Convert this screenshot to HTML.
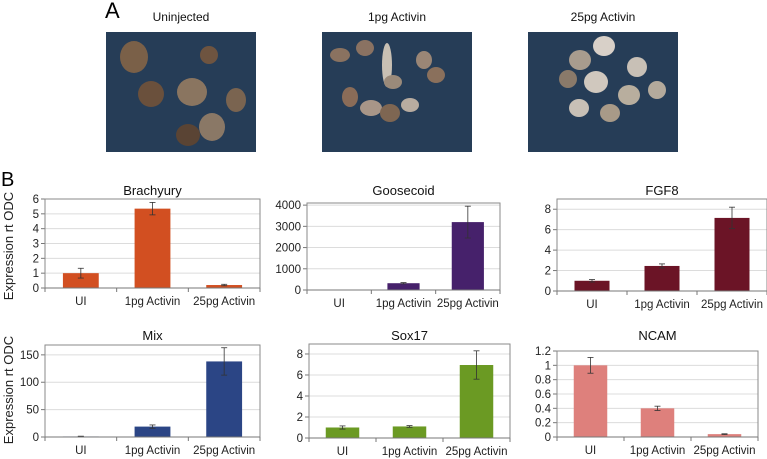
<!DOCTYPE html>
<html><head><meta charset="utf-8"><style>
html,body{margin:0;padding:0;background:#fff;}
svg{display:block;font-family:"Liberation Sans",Arial,sans-serif;}
</style></head><body>
<svg id="fig" width="767" height="459" viewBox="0 0 767 459">
  <text x="105" y="18" font-size="22" fill="#000">A</text>
  <text x="1" y="186" font-size="20" fill="#000">B</text>
  <g id="photos"></g>
  <g id="charts"></g>
  <text transform="translate(13,246) rotate(-90)" text-anchor="middle" font-size="13" fill="#222">Expression rt ODC</text>
  <text transform="translate(13,390) rotate(-90)" text-anchor="middle" font-size="13" fill="#222">Expression rt ODC</text>
</svg>
<script>
const categories = ["UI","1pg Activin","25pg Activin"];
const brachyuryValues = [1, 5.35, 0.2];
const brachyuryErrors = [0.33, 0.42, 0.05];
const brachyuryTicks = [0,1,2,3,4,5,6];
const goosecoidValues = [0, 320, 3200];
const goosecoidErrors = [0, 30, 750];
const goosecoidTicks = [0,1000,2000,3000,4000];
const fgf8Values = [1, 2.45, 7.15];
const fgf8Errors = [0.12, 0.2, 1.05];
const fgf8Ticks = [0,2,4,6,8];
const mixValues = [1, 19, 138];
const mixErrors = [0.5, 3, 25];
const mixTicks = [0,50,100,150];
const sox17Values = [1, 1.1, 6.95];
const sox17Errors = [0.15, 0.08, 1.35];
const sox17Ticks = [0,2,4,6,8];
const ncamValues = [1, 0.4, 0.04];
const ncamErrors = [0.11, 0.03, 0.005];
const ncamTicks = ["0","0.2","0.4","0.6","0.8","1","1.2"];

const NS = "http://www.w3.org/2000/svg";
function mk(tag, attrs, parent){
  const e = document.createElementNS(NS, tag);
  for (const k in attrs) e.setAttribute(k, attrs[k]);
  parent.appendChild(e);
  return e;
}

// Photos
const photos = document.getElementById('photos');
const photoDefs = [
  {x:106, title:"Uninjected", name:"uninjected", blobs:[[134,57,14,16,"#7a6048"],[209,55,9,9,"#6e5440"],[151,94,13,13,"#6a503c"],[192,92,15,14,"#8a7560"],[236,100,10,12,"#7a6450"],[212,127,13,14,"#8a7866"],[188,135,12,11,"#5a4434"]]},
  {x:322, title:"1pg Activin", name:"1pg-activin", blobs:[[340,55,10,7,"#8a7260"],[365,48,9,8,"#8a7262"],[387,65,5,22,"#c8c0b4"],[393,82,9,7,"#9a8a7a"],[424,60,8,9,"#9a8676"],[436,75,9,8,"#8a705c"],[350,97,8,10,"#8a6c58"],[371,108,11,8,"#a89688"],[390,113,10,9,"#7e6652"],[410,105,9,7,"#b8aca0"]]},
  {x:528, title:"25pg Activin", name:"25pg-activin", blobs:[[604,46,11,10,"#d8d0c8"],[580,60,11,10,"#a89c8e"],[637,67,10,10,"#c8c0b6"],[568,79,9,9,"#8a7a6a"],[596,82,12,11,"#d0c8be"],[629,95,11,10,"#b8ae9e"],[579,108,10,9,"#c8c0b6"],[610,113,10,9,"#a89a88"],[657,90,9,9,"#b4aa9c"]]}
];
photoDefs.forEach(p => {
  const g = mk('g', {}, photos);
  
  
  const t = mk('text', {x:p.x+75, y:21, 'text-anchor':'middle', 'font-size':12, fill:'#111'}, g);
  t.textContent = p.title;
  
  
  mk('rect', {x:p.x, y:32, width:150, height:120, fill:'#263d57'}, g);
  p.blobs.forEach(b => mk('ellipse', {cx:b[0], cy:b[1], rx:b[2], ry:b[3], fill:b[4]}, g));
});

// Charts
const charts = document.getElementById('charts');
function drawChart(o){
  const g = mk('g', {}, charts);
  
  
  const y = v => o.y0 - (v / o.max) * (o.y0 - o.top);
  const bw = (o.x1 - o.x0) / categories.length;
  const tt = mk('text', {x:(o.x0+o.x1)/2, y:o.titleY, 'text-anchor':'middle', 'font-size':13, fill:'#111'}, g);
  tt.textContent = o.title;
  
  
  o.ticks.forEach(t => {
    const v = parseFloat(t);
    const yy = y(v);
    if (v > 0) mk('line', {x1:o.x0, x2:o.x1, y1:yy, y2:yy, stroke:'#dcdcdc', 'stroke-width':1}, g);
    mk('line', {x1:o.x0-4, x2:o.x0, y1:yy, y2:yy, stroke:'#777'}, g);
    const lt = mk('text', {x:o.x0-6, y:yy+4, 'text-anchor':'end', 'font-size':11.5, fill:'#222'}, g);
    lt.textContent = t;
    
    
  });
  mk('rect', {x:o.x0, y:o.top, width:o.x1-o.x0, height:o.y0-o.top, fill:'none', stroke:'#8a8a8a'}, g);
  categories.forEach((c, i) => {
    const cx = o.x0 + bw*(i+0.5);
    const v = o.values[i], e = o.errors[i];
    const b = mk('rect', {x:cx-bw/4, y:y(v), width:bw/2, height:o.y0-y(v), fill:o.color}, g);
    
    
    if (e > 0) {
      mk('line', {x1:cx, x2:cx, y1:y(v+e), y2:y(Math.max(0,v-e)), stroke:'#333', 'stroke-width':0.8}, g);
      mk('line', {x1:cx-3, x2:cx+3, y1:y(v+e), y2:y(v+e), stroke:'#333', 'stroke-width':0.8}, g);
      mk('line', {x1:cx-3, x2:cx+3, y1:y(Math.max(0,v-e)), y2:y(Math.max(0,v-e)), stroke:'#333', 'stroke-width':0.8}, g);
    }
    const xl = mk('text', {x:cx, y:o.y0+17, 'text-anchor':'middle', 'font-size':11.5, fill:'#222'}, g);
    xl.textContent = c;
    
    
    mk('line', {x1:o.x0+bw*i, x2:o.x0+bw*i, y1:o.y0, y2:o.y0+4, stroke:'#777'}, g);
  });
  mk('line', {x1:o.x1, x2:o.x1, y1:o.y0, y2:o.y0+4, stroke:'#777'}, g);
  mk('line', {x1:o.x0, x2:o.x1, y1:o.y0, y2:o.y0, stroke:'#777'}, g);
}
drawChart({name:'brachyury', title:'Brachyury', values:brachyuryValues, errors:brachyuryErrors, ticks:brachyuryTicks, max:6, x0:45, x1:260, top:199, y0:288, titleY:195, color:'#d24f21'});
drawChart({name:'goosecoid', title:'Goosecoid', values:goosecoidValues, errors:goosecoidErrors, ticks:goosecoidTicks, max:4100, x0:307, x1:500, top:203, y0:290, titleY:195, color:'#46216b'});
drawChart({name:'fgf8', title:'FGF8', values:fgf8Values, errors:fgf8Errors, ticks:fgf8Ticks, max:9, x0:557, x1:767, top:199, y0:291, titleY:195, color:'#6b1426'});
drawChart({name:'mix', title:'Mix', values:mixValues, errors:mixErrors, ticks:mixTicks, max:168, x0:45, x1:260, top:345, y0:437, titleY:340, color:'#2b4585'});
drawChart({name:'sox17', title:'Sox17', values:sox17Values, errors:sox17Errors, ticks:sox17Ticks, max:8.95, x0:309, x1:510, top:344, y0:438, titleY:340, color:'#6b9a23'});
drawChart({name:'ncam', title:'NCAM', values:ncamValues, errors:ncamErrors, ticks:ncamTicks, max:1.2, x0:557, x1:758, top:351, y0:437, titleY:340, color:'#de807c'});
</script>
</body></html>
